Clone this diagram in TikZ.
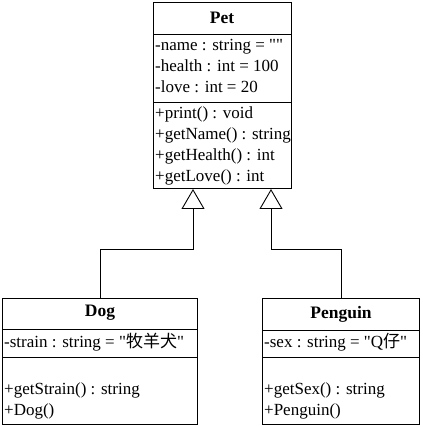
\documentclass[tikz,border=0pt]{standalone}
\usepackage{fontspec}
\setmainfont{Liberation Serif}
\newfontfamily\cjk{Noto Sans CJK SC}
\font\qf="Liberation Serif" at 17pt
\newcommand\dq{{\qf\char34}}
\usetikzlibrary{arrows.meta}
\begin{document}
\begin{tikzpicture}[x=1pt,y=-1pt,
  classbox/.style={draw,line width=0.9pt,inner sep=0pt,minimum width=#1},
  member/.style={anchor=west,inner sep=0pt,font=\fontsize{17}{20}\selectfont,text height=12pt,text depth=4pt},
  title/.style={inner sep=0pt,font=\fontsize{17.5}{20}\selectfont\bfseries},
  inherit/.style={line width=0.9pt,-{Triangle[open,length=20pt,width=23pt,line width=0.9pt]}},
  divider/.style={line width=0.9pt}]
\useasboundingbox (0,0) rectangle (422,427);
\fill[white] (0,0) rectangle (422,427);
% Pet
\node[classbox=138pt,minimum height=186pt,anchor=north west] (pet) at (153,2) {};
\draw[divider] (153,34) -- (291,34);
\draw[divider] (153,102) -- (291,102);
\node[title] (pett) at (222,18) {Pet};
\node[member] (p1) at (155,47) {-name : string = \dq\dq};
\node[member] (p2) at (155,68) {-health : int = 100};
\node[member] (p3) at (155,89) {-love : int = 20};
\node[member] (p4) at (155,115) {+print() : void};
\node[member] (p5) at (155,136) {+getName() : string};
\node[member] (p6) at (155,157) {+getHealth() : int};
\node[member] (p7) at (155,178) {+getLove() : int};
% Dog
\node[classbox=195pt,minimum height=126pt,anchor=north west] (dog) at (2,298) {};
\draw[divider] (2,329) -- (197,329);
\draw[divider] (2,357) -- (197,357);
\node[title] (dogt) at (100,313) {Dog};
\node[member] (d1) at (4,343) {-strain : string = \dq{\cjk 牧羊犬}\dq};
\node[member] (d2) at (4,390) {+getStrain() : string};
\node[member] (d3) at (4,411) {+Dog()};
% Penguin
\node[classbox=157pt,minimum height=126pt,anchor=north west] (pen) at (262,298) {};
\draw[divider] (262,330) -- (419,330);
\draw[divider] (262,357) -- (419,357);
\node[title] (pent) at (341,314) {Penguin};
\node[member] (q1) at (264,343) {-sex : string = \dq Q{\cjk 仔}\dq};
\node[member] (q2) at (264,390) {+getSex() : string};
\node[member] (q3) at (264,411) {+Penguin()};
% inheritance
\coordinate (pl) at (193,189);
\coordinate (pr) at (271,189);
\draw[inherit] (dog.north) |- (193,249) -- (pl);
\draw[inherit] (pen.north) |- (271,249) -- (pr);
\end{tikzpicture}
\end{document}
